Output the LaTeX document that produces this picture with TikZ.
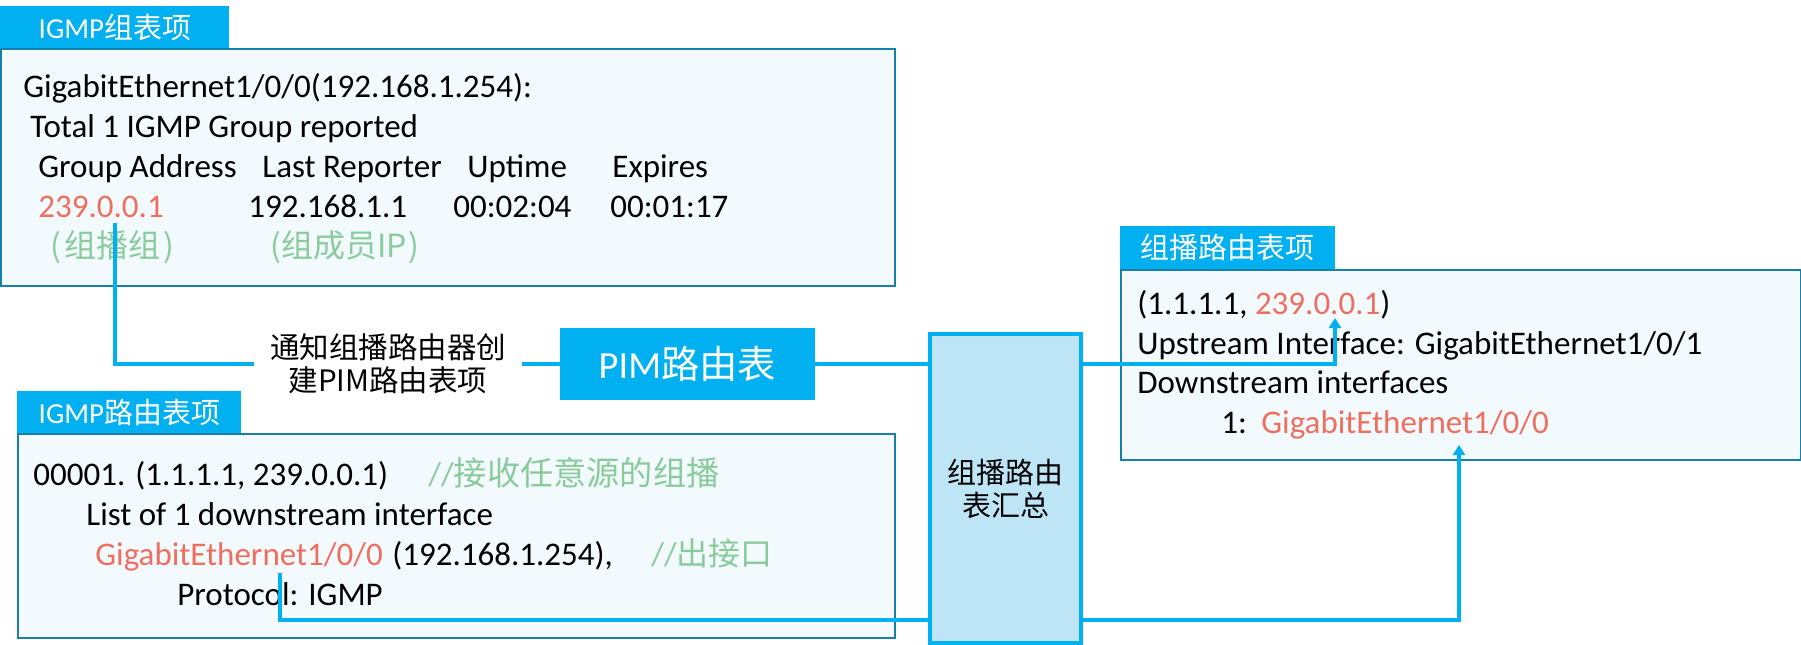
\documentclass[tikz,border=0pt]{standalone}
\usepackage{fontspec}
\setmainfont{Carlito}
\newfontfamily\cjk{Noto Sans CJK SC}
\usepackage{xcolor}
\usetikzlibrary{arrows.meta}

\definecolor{tabblue}{RGB}{0,176,240}
\definecolor{framecol}{RGB}{24,126,170}
\definecolor{panelbg}{RGB}{242,250,253}
\definecolor{sumbg}{RGB}{190,229,246}
\definecolor{addrred}{RGB}{238,110,95}
\definecolor{notegreen}{RGB}{138,203,155}

\newcommand{\bodyfont}{\fontsize{16.5}{20}\selectfont}

\begin{document}
\begin{tikzpicture}[x=0.5pt,y=-0.5pt]
    \tikzstyle{panel}=[draw=framecol, line width=1.2pt, fill=panelbg, anchor=north west, inner sep=0pt]
    \tikzstyle{tabhead}=[fill=tabblue, text=white, anchor=north west, inner sep=0pt, font=\fontsize{14.5}{17}\selectfont]
    \tikzstyle{txt}=[anchor=base west, inner sep=0pt, font=\bodyfont]
    \tikzstyle{addr}=[txt, text=addrred]
    \tikzstyle{note}=[txt, text=notegreen]
    \tikzstyle{link}=[draw=tabblue, line width=1.6pt]
    \tikzstyle{tip}=[-{Triangle[width=6pt,length=5pt]}]

    \useasboundingbox (0,0) rectangle (1801,644);

    % IGMP group table
    \node[panel, minimum width=447pt, minimum height=118.5pt] (grpbox) at (0,48) {};
    \node[tabhead, minimum width=114.5pt, minimum height=21pt] (grptab) at (0,6) {IGMP{\cjk 组表项}};
    \node[txt] (grpif) at (23,97) {GigabitEthernet1/0/0(192.168.1.254):};
    \node[txt] (grptotal) at (30,137) {Total 1 IGMP Group reported};
    \foreach \x/\t [count=\i] in {38/Group Address, 262/Last Reporter, 467/Uptime, 612/Expires}
    \node[txt] (head\i) at (\x,177) {\t};
    \node[addr] (grp) at (38,217) {239.0.0.1};
    \foreach \x/\t [count=\i] in {248/192.168.1.1, 453/00:02:04, 610/00:01:17}
    \node[txt] (val\i) at (\x,217) {\t};
    \node[note, font={\cjk\fontsize{16}{20}\selectfont}] (grpnote) at (50,257) {(\hspace{1.5pt}组播组\hspace{1.5pt})};
    \node[note, font={\cjk\fontsize{16}{20}\selectfont}] (mbrnote) at (270,257) {(组成员IP\hspace{1pt})};

    % IGMP routing table
    \node[panel, minimum width=438.5pt, minimum height=102pt] (rtbox) at (17,433) {};
    \node[tabhead, minimum width=112pt, minimum height=21pt] (rttab) at (17,391) {IGMP{\cjk 路由表项}};
    \node[txt] (entry) at (33,485) {00001. (1.1.1.1, 239.0.0.1)};
    \node[note] (anynote) at (428,485) {//{\cjk\fontsize{16.6}{20}\selectfont 接收任意源的组播}};
    \node[txt] (dslist) at (86,525) {List of 1 downstream interface};
    \node[addr] (outif) at (95,565) {GigabitEthernet1/0/0};
    \node[txt] (outip) at (392,565) {(192.168.1.254),};
    \node[note] (outnote) at (651,565) {//{\cjk\fontsize{16}{20}\selectfont 出接口}};
    \node[txt] (proto) at (177,605) {Protocol: IGMP};

    % multicast routing table
    \node[panel, minimum width=340pt, minimum height=95pt] (mrbox) at (1120,269) {};
    \node[tabhead, minimum width=107.5pt, minimum height=21.5pt, font={\cjk\fontsize{14.5}{17}\selectfont}] (mrtab) at (1120,226) {组播路由表项};
    \node[txt] (sg) at (1137,314) {(1.1.1.1, \textcolor{addrred}{239.0.0.1})};
    \node[txt] (upif) at (1137,354) {Upstream Interface: GigabitEthernet1/0/1};
    \node[txt] (dshead) at (1137,393) {Downstream interfaces};
    \node[txt] (dsnum) at (1221,433) {1:};
    \node[addr] (dsif) at (1261,433) {GigabitEthernet1/0/0};

    % middle
    \node[align=center, inner xsep=8pt, font={\cjk\fontsize{14.75}{16.5}\selectfont}] (notice) at (388,364) {通知组播路由器创\\建PIM路由表项};
    \node[fill=tabblue, text=white, minimum width=127.5pt, minimum height=36pt, font=\fontsize{19.2}{22}\selectfont] (pim) at (687.5,364) {PIM{\cjk 路由表}};
    \node[draw=tabblue, line width=1.6pt, fill=sumbg, minimum width=75.5pt, minimum height=154.5pt, align=center, font={\cjk\fontsize{14.5}{16.5}\selectfont}] (sum) at (1005.5,488.5) {组播路由\\表汇总};

    \coordinate (grpout) at (115,223);
    \coordinate (ifout) at (280,573);
    \coordinate (lowrow) at (280,620);
    \coordinate (sgin) at (1335,318);
    \coordinate (dsin) at (1459,445);

    \draw[link] (grpout) |- (notice);
    \draw[link] (notice) -- (pim);
    \draw[link] (pim) -- (pim -| sum.west);
    \draw[link, tip] (pim -| sum.east) -| (sgin);
    \draw[link] (ifout) -- (lowrow) -- (lowrow -| sum.west);
    \draw[link, tip] (lowrow -| sum.east) -| (dsin);

\end{tikzpicture}
\end{document}
